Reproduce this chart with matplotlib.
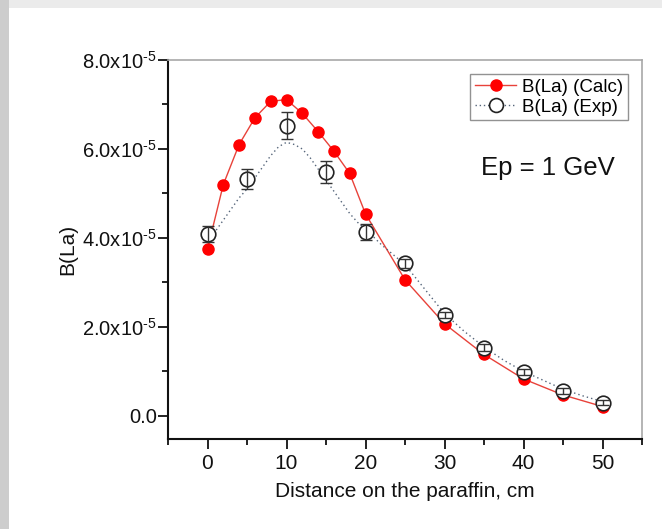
import numpy as np
import matplotlib
matplotlib.use('Agg')
import matplotlib.pyplot as plt
from matplotlib.lines import Line2D
from matplotlib.patches import Rectangle
from matplotlib.ticker import FixedLocator

plt.rcParams['font.family'] = ['Liberation Sans', 'DejaVu Sans']
plt.rcParams['mathtext.fontset'] = 'custom'
plt.rcParams['mathtext.rm'] = 'Liberation Sans'
plt.rcParams['mathtext.it'] = 'Liberation Sans'

# calculated points (units of 1e-5)
calc_x = [0, 2, 4, 6, 8, 10, 12, 14, 16, 18, 20, 25, 30, 35, 40, 45, 50]
calc_y = [3.75, 5.20, 6.10, 6.70, 7.07, 7.11, 6.80, 6.39, 5.95, 5.45, 4.54,
          3.06, 2.07, 1.38, 0.83, 0.47, 0.21]

# experimental points with errors (units of 1e-5)
exp_x = [0, 5, 10, 15, 20, 25, 30, 35, 40, 45, 50]
exp_y = [4.09, 5.33, 6.52, 5.48, 4.14, 3.43, 2.26, 1.53, 0.98, 0.56, 0.30]
exp_err = [0.18, 0.23, 0.30, 0.24, 0.18, 0.10, 0.07, 0.08, 0.07, 0.06, 0.06]

fit_x = [0, 1, 2, 3, 4, 5, 6, 7, 8, 9, 10, 11, 12, 13, 14, 15, 16, 17, 18, 19,
         20, 22, 25, 27.5, 30, 32.5, 35, 37.5, 40, 42.5, 45, 47.5, 50]
fit_y = [3.95, 4.15, 4.40, 4.65, 4.90, 5.10, 5.35, 5.60, 5.85, 6.05, 6.15,
         6.10, 6.00, 5.80, 5.55, 5.30, 5.05, 4.80, 4.55, 4.35, 4.20, 3.85,
         3.40, 2.85, 2.30, 1.90, 1.55, 1.25, 1.00, 0.80, 0.60, 0.45, 0.32]

ytick_labels = ['0.0', r'2.0x10$^{\text{-5}}$', r'4.0x10$^{\text{-5}}$',
                r'6.0x10$^{\text{-5}}$', r'8.0x10$^{\text{-5}}$']

sc = 1e-5
W, H = 662, 529
fig = plt.figure(figsize=(W / 100, H / 100), dpi=100)
fig.patch.set_facecolor('white')
# grey slide border at top and left
fig.patches.append(Rectangle((0, 1 - 8 / H), 1, 8 / H, transform=fig.transFigure,
                             facecolor='#ebebeb', edgecolor='none', zorder=0))
fig.patches.append(Rectangle((0, 0), 9 / W, 1, transform=fig.transFigure,
                             facecolor='#cdcdcd', edgecolor='none', zorder=0))

ax = fig.add_axes([168 / W, 1 - 439 / H, (642 - 168) / W, (439 - 60) / H])

ax.plot(calc_x, np.array(calc_y) * sc, '-', color='#e8423a', lw=1.0, zorder=2)
ax.plot(calc_x, np.array(calc_y) * sc, 'o', color='#ff0000', ms=8, mec='#ff0000', zorder=3)
ax.plot(fit_x, np.array(fit_y) * sc, color='#55657a', lw=1.0, dashes=(1, 2.2), zorder=2)
ax.plot(exp_x, np.array(exp_y) * sc, 'o', mfc='white', mec='#222222', mew=1.2, ms=10.5, zorder=4)
ax.errorbar(exp_x, np.array(exp_y) * sc, yerr=np.array(exp_err) * sc, fmt='none',
            ecolor='#333333', elinewidth=1.0, capsize=4.5, capthick=1.0, zorder=5)

ax.set_xlim(-5, 55)
ax.set_ylim(-0.52e-5, 8.0e-5)
ax.xaxis.set_major_locator(FixedLocator([0, 10, 20, 30, 40, 50]))
ax.xaxis.set_minor_locator(FixedLocator([-5, 5, 15, 25, 35, 45, 55]))
ax.yaxis.set_major_locator(FixedLocator([0, 2e-5, 4e-5, 6e-5, 8e-5]))
ax.yaxis.set_minor_locator(FixedLocator([1e-5, 3e-5, 5e-5, 7e-5]))
ax.set_yticklabels(ytick_labels)
ax.tick_params(axis='both', which='major', direction='out', length=7, width=1.3,
               colors='#111111')
ax.tick_params(axis='x', which='major', labelsize=15, pad=4)
ax.tick_params(axis='y', which='major', labelsize=14.5, pad=1)
ax.tick_params(axis='both', which='minor', direction='out', length=4, width=1.3, colors='#111111')

for s in ['left', 'bottom']:
    ax.spines[s].set_color('#111111')
    ax.spines[s].set_linewidth(1.5)
for s in ['top', 'right']:
    ax.spines[s].set_color('#a8a8a8')
    ax.spines[s].set_linewidth(1.2)

ax.set_xlabel('Distance on the paraffin, cm', fontsize=15, color='#111111', labelpad=6)
ax.set_ylabel('B(La)', fontsize=15, color='#111111', labelpad=4)

ax.text(0.66, 0.715, 'Ep = 1 GeV', transform=ax.transAxes, fontsize=18.5, color='#111111',
        ha='left', va='center')

handles = [Line2D([], [], color='#e8423a', lw=1.0, marker='o', ms=8, mfc='#ff0000', mec='#ff0000'),
           Line2D([], [], color='#55657a', lw=1.0, dashes=(1, 2), marker='o', ms=10, mfc='white',
                  mec='#222222', mew=1.2)]
leg = ax.legend(handles, ['B(La) (Calc)', 'B(La) (Exp)'], loc='upper right',
                bbox_to_anchor=(0.97, 0.963), fontsize=13.5, frameon=True, fancybox=False,
                edgecolor='#777777', handlelength=2.2, handletextpad=0.3, borderpad=0.25,
                labelspacing=0.15, borderaxespad=0)
leg.get_frame().set_linewidth(1.0)

fig.savefig('out.png', dpi=100)
